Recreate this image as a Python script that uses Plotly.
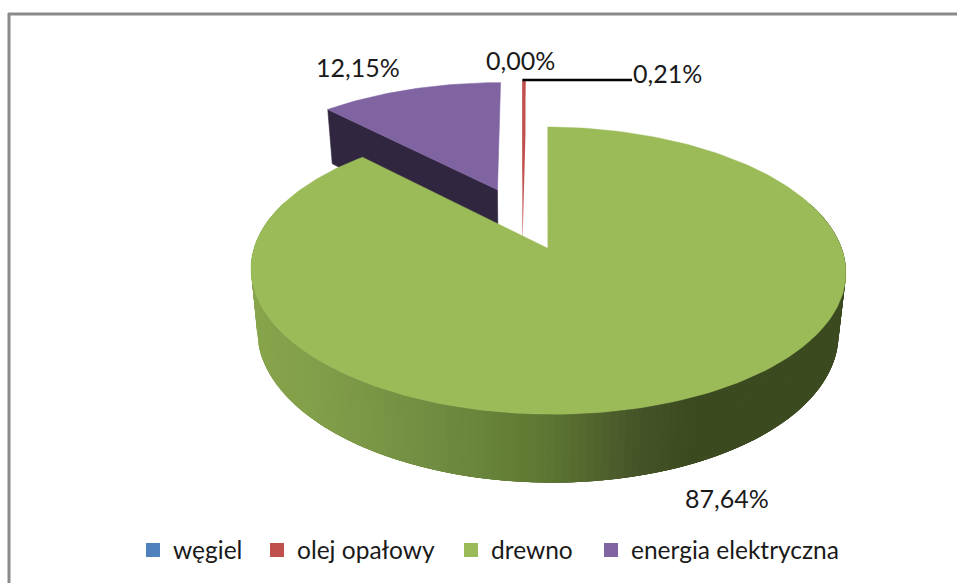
import math
import plotly.graph_objects as go

categories = ["węgiel", "olej opałowy", "drewno", "energia elektryczna"]
values = [0.00, 0.21, 87.64, 12.15]
value_labels = ["0,00%", "0,21%", "87,64%", "12,15%"]
colors = ["#4F81BD", "#C0504D", "#9BBB59", "#8064A2"]
dark_colors = ["#2C4D75", "#C0504D", "#3C4A20", "#31263F"]

W, H = 957, 583
CX, CY = 522, 218      # screen position of the undisplaced pie centre
RX, RY = 284, 131      # ground-plane scale
K = 0.15               # perspective
DEPTH, DP = 59.4, 0.7  # side height
PULL = 0.24
SHRINK = 0.977


def project(X, Y):
    w = 1 + K * Y
    return CX + RX * X / w, CY - RY * Y / w


def project_low(X, Y):
    w = 1 + K * Y
    x, y = project(X, Y)
    return CX + (x - CX) * SHRINK, y + DEPTH / w ** DP


def slice_geometry(start_share, share):
    a0 = start_share * 2 * math.pi
    a1 = (start_share + share) * 2 * math.pi
    mid = (a0 + a1) / 2
    ox, oy = PULL * math.sin(mid), PULL * math.cos(mid)
    n = max(2, int(share * 360))
    rim = []
    for i in range(n + 1):
        a = a0 + (a1 - a0) * i / n
        rim.append((ox + math.sin(a), oy + math.cos(a)))
    return (ox, oy), rim


def poly(pts, color, width=0.6):
    xs = [p[0] for p in pts] + [pts[0][0]]
    ys = [p[1] for p in pts] + [pts[0][1]]
    return go.Scatter(x=xs, y=ys, mode="lines", fill="toself", fillcolor=color,
                      line=dict(color=color, width=width), hoverinfo="skip", showlegend=False)


def lerp_color(x):
    stops = [(250, (0x88, 0xA5, 0x4C)), (330, (0x80, 0x9D, 0x49)), (450, (0x6E, 0x8A, 0x3F)),
             (550, (0x5E, 0x77, 0x33)), (640, (0x46, 0x55, 0x28)), (695, (0x3C, 0x4A, 0x20)),
             (850, (0x3C, 0x4A, 0x20))]
    for (a, ca), (b, cb) in zip(stops, stops[1:]):
        if x <= b:
            t = max(0, (x - a) / (b - a))
            return "rgb(%d,%d,%d)" % tuple(round(ca[i] + (cb[i] - ca[i]) * t) for i in range(3))
    return "rgb(60,74,32)"


total = sum(values)
geo = {}
s = 0
for c, v in zip(categories, values):
    geo[c] = slice_geometry(s / total, v / total)
    s += v

traces = []

# energia elektryczna
apex, rim = geo[categories[3]]
traces.append(poly([project(*rim[0]), project(*apex), project_low(*apex), project_low(*rim[0])], dark_colors[3]))
traces.append(poly([project(*apex)] + [project(*p) for p in rim], colors[3]))

# olej opałowy
apex, rim = geo[categories[1]]
traces.append(poly([project(*rim[0]), project(*apex), project_low(*apex), project_low(*rim[-1]), project(*rim[-1])], colors[1], 0))
traces.append(poly([project(*apex)] + [project(*p) for p in rim], colors[1], 0))

# drewno: visible rim painted from the right (dark) end to the left, each band overlapping the next
apex, rim = geo[categories[2]]
fine = []
a0 = values[1] / total * 2 * math.pi
a1 = (values[1] + values[2]) / total * 2 * math.pi
n = 240
for i in range(n + 1):
    a = a0 + (a1 - a0) * i / n
    fine.append((apex[0] + math.sin(a), apex[1] + math.cos(a)))
visible = [p for p in fine if p[1] <= 0.12]
for i in range(len(visible) - 1):
    band = visible[i:i + 5]
    top = project(*visible[i])
    pts = [project(*p) for p in band] + [project_low(*p) for p in reversed(band)]
    traces.append(poly(pts, lerp_color(top[0]), 0))
traces.append(poly([project(*apex)] + [project(*p) for p in fine], colors[2], 0.4))

# leader line of the olej opałowy label
traces.append(go.Scatter(x=[project(*geo[categories[1]][1][0])[0], 632], y=[80, 80], mode="lines",
                         line=dict(color="black", width=2.5), hoverinfo="skip", showlegend=False))

FONT = "Lato, Carlito, Calibri, sans-serif"
LEGEND_SIZE = 24.5
legend_left = [133, 257, 451, 591]   # pixel position of each legend entry
legend_layout = {}
for i, (c, col) in enumerate(zip(categories, colors)):
    key = "legend" if i == 0 else "legend%d" % (i + 1)
    traces.append(go.Scatter(x=[None], y=[None], mode="markers", name=c, legend=key,
                             marker=dict(symbol="square", size=14, color=col)))
    legend_layout[key] = dict(orientation="h", x=legend_left[i] / W, xanchor="left", y=1 - 550 / H, yanchor="middle",
                              font=dict(family=FONT, size=LEGEND_SIZE, color="#1a1a1a"),
                              itemclick=False, itemdoubleclick=False, bgcolor="rgba(0,0,0,0)")

label_pos = {"0,00%": (520, 60), "0,21%": (667, 73), "87,64%": (727, 498), "12,15%": (358, 67)}
annotations = [dict(x=label_pos[t][0], y=label_pos[t][1], text=t, showarrow=False, xref="x", yref="y",
                    font=dict(family=FONT, size=25, color="#1a1a1a")) for t in value_labels]

fig = go.Figure(traces)
fig.update_layout(
    width=W, height=H, margin=dict(l=0, r=0, t=0, b=0),
    paper_bgcolor="white", plot_bgcolor="white",
    xaxis=dict(range=[0, W], visible=False, fixedrange=True),
    yaxis=dict(range=[H, 0], visible=False, fixedrange=True),
    annotations=annotations,
    shapes=[dict(type="line", xref="paper", yref="paper", x0=9 / W, x1=9 / W, y0=0, y1=1 - 13 / H,
                 line=dict(color="#8A8A8A", width=3)),
            dict(type="line", xref="paper", yref="paper", x0=8 / W, x1=1, y0=1 - 14 / H, y1=1 - 14 / H,
                 line=dict(color="#8A8A8A", width=3))],
    **legend_layout,
)
fig.write_html("out.html", config={"displayModeBar": False},
               post_script="document.body.style.margin='0';document.body.style.overflow='hidden';")
